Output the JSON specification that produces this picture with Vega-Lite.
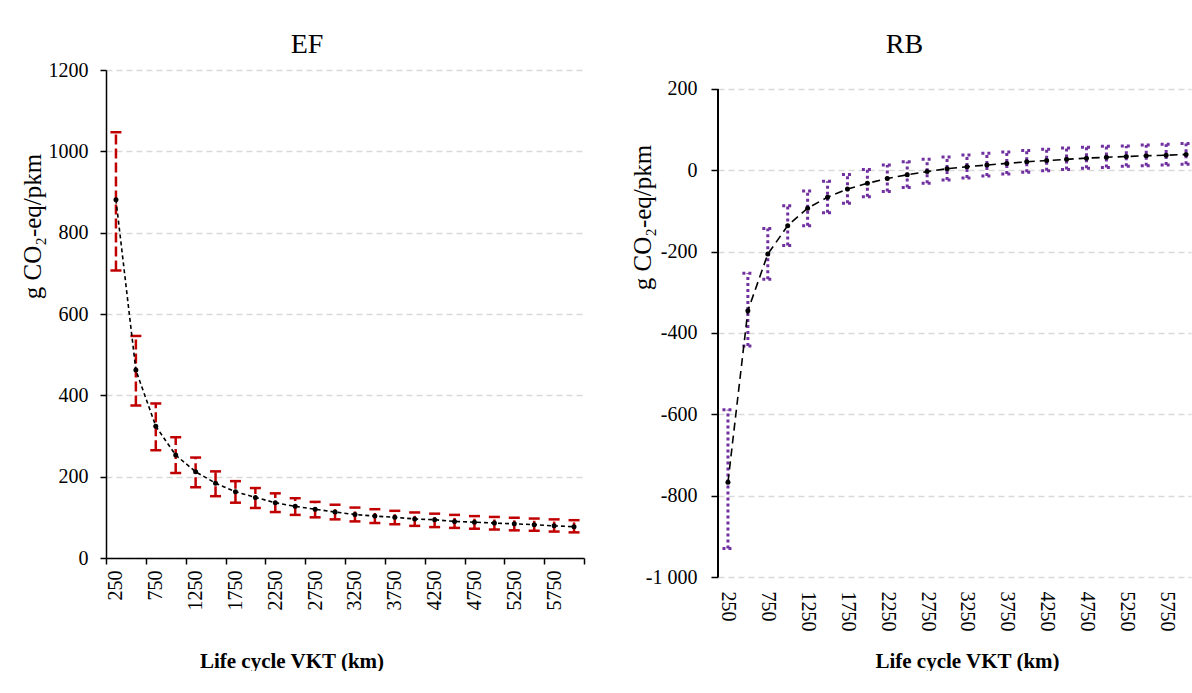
{
  "$schema": "https://vega.github.io/schema/vega-lite/v6.json",
  "background": "white",
  "padding": {"left": 20, "top": 31, "right": 0, "bottom": 0},
  "spacing": 26,
  "data": {"values": [
    {"vkt":250,"ef":881,"ef_lo":707,"ef_hi":1047,"rb":-767,"rb_lo":-930,"rb_hi":-589},
    {"vkt":500,"ef":462,"ef_lo":375,"ef_hi":546,"rb":-345,"rb_lo":-432,"rb_hi":-253},
    {"vkt":750,"ef":324,"ef_lo":265,"ef_hi":380,"rb":-206,"rb_lo":-268,"rb_hi":-143},
    {"vkt":1000,"ef":253,"ef_lo":209,"ef_hi":297,"rb":-136,"rb_lo":-185,"rb_hi":-87},
    {"vkt":1250,"ef":212,"ef_lo":174,"ef_hi":247,"rb":-93,"rb_lo":-136,"rb_hi":-51},
    {"vkt":1500,"ef":184,"ef_lo":152,"ef_hi":213,"rb":-66,"rb_lo":-104,"rb_hi":-27},
    {"vkt":1750,"ef":163,"ef_lo":136,"ef_hi":189,"rb":-46,"rb_lo":-81,"rb_hi":-10},
    {"vkt":2000,"ef":149,"ef_lo":123,"ef_hi":172,"rb":-32,"rb_lo":-65,"rb_hi":2},
    {"vkt":2250,"ef":136,"ef_lo":113,"ef_hi":159,"rb":-20,"rb_lo":-52,"rb_hi":13},
    {"vkt":2500,"ef":127,"ef_lo":106,"ef_hi":147,"rb":-11,"rb_lo":-42,"rb_hi":21},
    {"vkt":2750,"ef":120,"ef_lo":100,"ef_hi":138,"rb":-3,"rb_lo":-32,"rb_hi":27},
    {"vkt":3000,"ef":113,"ef_lo":95,"ef_hi":131,"rb":4,"rb_lo":-24,"rb_hi":33},
    {"vkt":3250,"ef":107,"ef_lo":90,"ef_hi":124,"rb":9,"rb_lo":-19,"rb_hi":38},
    {"vkt":3500,"ef":103,"ef_lo":86,"ef_hi":120,"rb":13,"rb_lo":-14,"rb_hi":42},
    {"vkt":3750,"ef":100,"ef_lo":83,"ef_hi":116,"rb":17,"rb_lo":-9,"rb_hi":45},
    {"vkt":4000,"ef":96,"ef_lo":79,"ef_hi":112,"rb":21,"rb_lo":-5,"rb_hi":49},
    {"vkt":4250,"ef":94,"ef_lo":76,"ef_hi":109,"rb":24,"rb_lo":-1,"rb_hi":52},
    {"vkt":4500,"ef":90,"ef_lo":74,"ef_hi":106,"rb":27,"rb_lo":2,"rb_hi":55},
    {"vkt":4750,"ef":88,"ef_lo":72,"ef_hi":103,"rb":30,"rb_lo":5,"rb_hi":57},
    {"vkt":5000,"ef":86,"ef_lo":70,"ef_hi":101,"rb":32,"rb_lo":7,"rb_hi":59},
    {"vkt":5250,"ef":84,"ef_lo":68,"ef_hi":99,"rb":34,"rb_lo":10,"rb_hi":60},
    {"vkt":5500,"ef":82,"ef_lo":67,"ef_hi":97,"rb":36,"rb_lo":11,"rb_hi":62},
    {"vkt":5750,"ef":79,"ef_lo":65,"ef_hi":95,"rb":37,"rb_lo":13,"rb_hi":64},
    {"vkt":6000,"ef":77,"ef_lo":63,"ef_hi":93,"rb":39,"rb_lo":15,"rb_hi":66}
  ]},
  "hconcat": [
    {
      "width": 478,
      "height": 488,
      "title": {"text": "EF", "fontSize": 28, "font": "Liberation Serif", "fontWeight": "normal", "color": "black", "frame": "group", "anchor": "middle", "dx": -38, "offset": 1},
      "encoding": {
        "x": {
          "field": "vkt", "type": "quantitative",
          "scale": {"domain": [125, 6125], "nice": false, "zero": false},
          "axis": {
            "values": [125, 625, 1125, 1625, 2125, 2625, 3125, 3625, 4125, 4625, 5125, 5625, 6125],
            "labelExpr": "datum.value < 6000 ? format(datum.value + 125, 'd') : ''",
            "labelOffset": 9.96, "labelAngle": -90, "labelAlign": "right", "labelBaseline": "middle",
            "labelPadding": 6, "labelFont": "Liberation Serif", "labelFontSize": 20, "labelFlush": false, "labelOverlap": false, "labelBound": false,
            "tickSize": 6, "tickWidth": 1.5, "domainWidth": 1.5, "grid": false,
            "title": "Life cycle VKT (km)", "titleFont": "Liberation Serif", "titleFontSize": 21, "titleFontWeight": "bold",
            "titleX": 185.5, "titleY": 103, "titleBaseline": "middle", "titleAlign": "center", "titleAngle": 0
          }
        }
      },
      "layer": [
        {
          "mark": {"type": "rule", "color": "#C00000", "strokeWidth": 2.5, "strokeDash": [10, 4]},
          "encoding": {
            "y": {
              "field": "ef_lo", "type": "quantitative",
              "scale": {"domain": [0, 1200], "nice": false},
              "axis": {
                "values": [0, 200, 400, 600, 800, 1000, 1200], "format": "d",
                "labelFont": "Liberation Serif", "labelFontSize": 20, "labelPadding": 12, "tickSize": 6, "tickWidth": 1.5, "domainWidth": 1.5,
                "grid": true, "gridColor": "#D9D9D9", "gridDash": [6, 4], "gridWidth": 1.5,
                "title": "g CO₂-eq/pkm", "titleFont": "Liberation Serif", "titleFontSize": 25, "titleFontWeight": "normal",
                "titleX": -74, "titleY": 156, "titleAngle": -90, "titleBaseline": "middle", "titleAlign": "center"
              }
            },
            "y2": {"field": "ef_hi"}
          }
        },
        {
          "mark": {"type": "rule", "color": "#C00000", "strokeWidth": 2.5, "xOffset": -5.5, "x2Offset": 5.5},
          "encoding": {
            "x2": {"field": "vkt"},
            "y": {"field": "ef_hi", "type": "quantitative", "title": "g CO₂-eq/pkm"}
          }
        },
        {
          "mark": {"type": "rule", "color": "#C00000", "strokeWidth": 2.5, "xOffset": -5.5, "x2Offset": 5.5},
          "encoding": {
            "x2": {"field": "vkt"},
            "y": {"field": "ef_lo", "type": "quantitative", "title": "g CO₂-eq/pkm"}
          }
        },
        {
          "mark": {"type": "line", "color": "black", "strokeWidth": 1.6, "strokeDash": [4, 3]},
          "encoding": {"y": {"field": "ef", "type": "quantitative", "title": "g CO₂-eq/pkm"}}
        },
        {
          "mark": {"type": "point", "filled": true, "color": "black", "size": 25, "opacity": 1},
          "encoding": {"y": {"field": "ef", "type": "quantitative", "title": "g CO₂-eq/pkm"}}
        }
      ]
    },
    {
      "width": 473,
      "height": 507,
      "title": {"text": "RB", "fontSize": 28, "font": "Liberation Serif", "fontWeight": "normal", "color": "black", "frame": "group", "anchor": "middle", "dx": -50, "offset": 11},
      "encoding": {
        "x": {
          "field": "vkt", "type": "quantitative",
          "scale": {"domain": [125, 6062], "nice": false, "zero": false},
          "axis": {
            "values": [125, 625, 1125, 1625, 2125, 2625, 3125, 3625, 4125, 4625, 5125, 5625],
            "labelExpr": "format(datum.value + 125, 'd')",
            "labelOffset": 9.96, "labelAngle": 90, "labelAlign": "left", "labelBaseline": "middle",
            "labelPadding": 14, "labelFont": "Liberation Serif", "labelFontSize": 20, "labelFlush": false, "labelOverlap": false, "labelBound": false,
            "domain": false, "ticks": false, "grid": false,
            "title": "Life cycle VKT (km)", "titleFont": "Liberation Serif", "titleFontSize": 21, "titleFontWeight": "bold",
            "titleX": 249, "titleY": 84, "titleBaseline": "middle", "titleAlign": "center", "titleAngle": 0
          }
        }
      },
      "layer": [
        {
          "mark": {"type": "rule", "color": "#70AD47", "strokeWidth": 3},
          "encoding": {
            "y": {
              "datum": 0, "type": "quantitative",
              "scale": {"domain": [-1000, 246.72], "nice": false},
              "axis": {
                "values": [-1000, -800, -600, -400, -200, 0, 200],
                "labelExpr": "datum.value < 0 ? '-' + (datum.value == -1000 ? '1 000' : format(-datum.value, 'd')) : format(datum.value, 'd')",
                "labelFont": "Liberation Serif", "labelFontSize": 20, "labelPadding": 14, "tickSize": 7, "tickWidth": 1.5, "domain": false,
                "grid": true, "gridColor": "#D9D9D9", "gridDash": [6, 4], "gridWidth": 1.5,
                "title": "g CO₂-eq/pkm", "titleFont": "Liberation Serif", "titleFontSize": 25, "titleFontWeight": "normal",
                "titleX": -76, "titleY": 147, "titleAngle": -90, "titleBaseline": "middle", "titleAlign": "center"
              }
            }
          }
        },
        {
          "mark": {"type": "rule", "color": "black", "strokeWidth": 1.5},
          "encoding": {
            "x": {"datum": 125, "type": "quantitative"},
            "y": {"datum": -1000, "type": "quantitative"},
            "y2": {"datum": 200}
          }
        },
        {
          "mark": {"type": "rule", "color": "#7030A0", "strokeWidth": 3, "strokeDash": [3, 3]},
          "encoding": {
            "y": {"field": "rb_lo", "type": "quantitative", "title": "g CO₂-eq/pkm"},
            "y2": {"field": "rb_hi"}
          }
        },
        {
          "mark": {"type": "rule", "color": "#7030A0", "strokeWidth": 3, "strokeDash": [3, 3], "xOffset": -5.5, "x2Offset": 5.5},
          "encoding": {
            "x2": {"field": "vkt"},
            "y": {"field": "rb_hi", "type": "quantitative", "title": "g CO₂-eq/pkm"}
          }
        },
        {
          "mark": {"type": "rule", "color": "#7030A0", "strokeWidth": 3, "strokeDash": [3, 3], "xOffset": -5.5, "x2Offset": 5.5},
          "encoding": {
            "x2": {"field": "vkt"},
            "y": {"field": "rb_lo", "type": "quantitative", "title": "g CO₂-eq/pkm"}
          }
        },
        {
          "mark": {"type": "line", "color": "black", "strokeWidth": 1.6, "strokeDash": [8, 5]},
          "encoding": {"y": {"field": "rb", "type": "quantitative", "title": "g CO₂-eq/pkm"}}
        },
        {
          "mark": {"type": "point", "filled": true, "color": "black", "size": 25, "opacity": 1},
          "encoding": {"y": {"field": "rb", "type": "quantitative", "title": "g CO₂-eq/pkm"}}
        }
      ]
    }
  ],
  "config": {
    "view": {"stroke": null},
    "font": "Liberation Serif",
    "axis": {
      "labelFont": "Liberation Serif", "titleFont": "Liberation Serif",
      "labelColor": "black", "titleColor": "black",
      "domainColor": "black", "tickColor": "black"
    }
  }
}
